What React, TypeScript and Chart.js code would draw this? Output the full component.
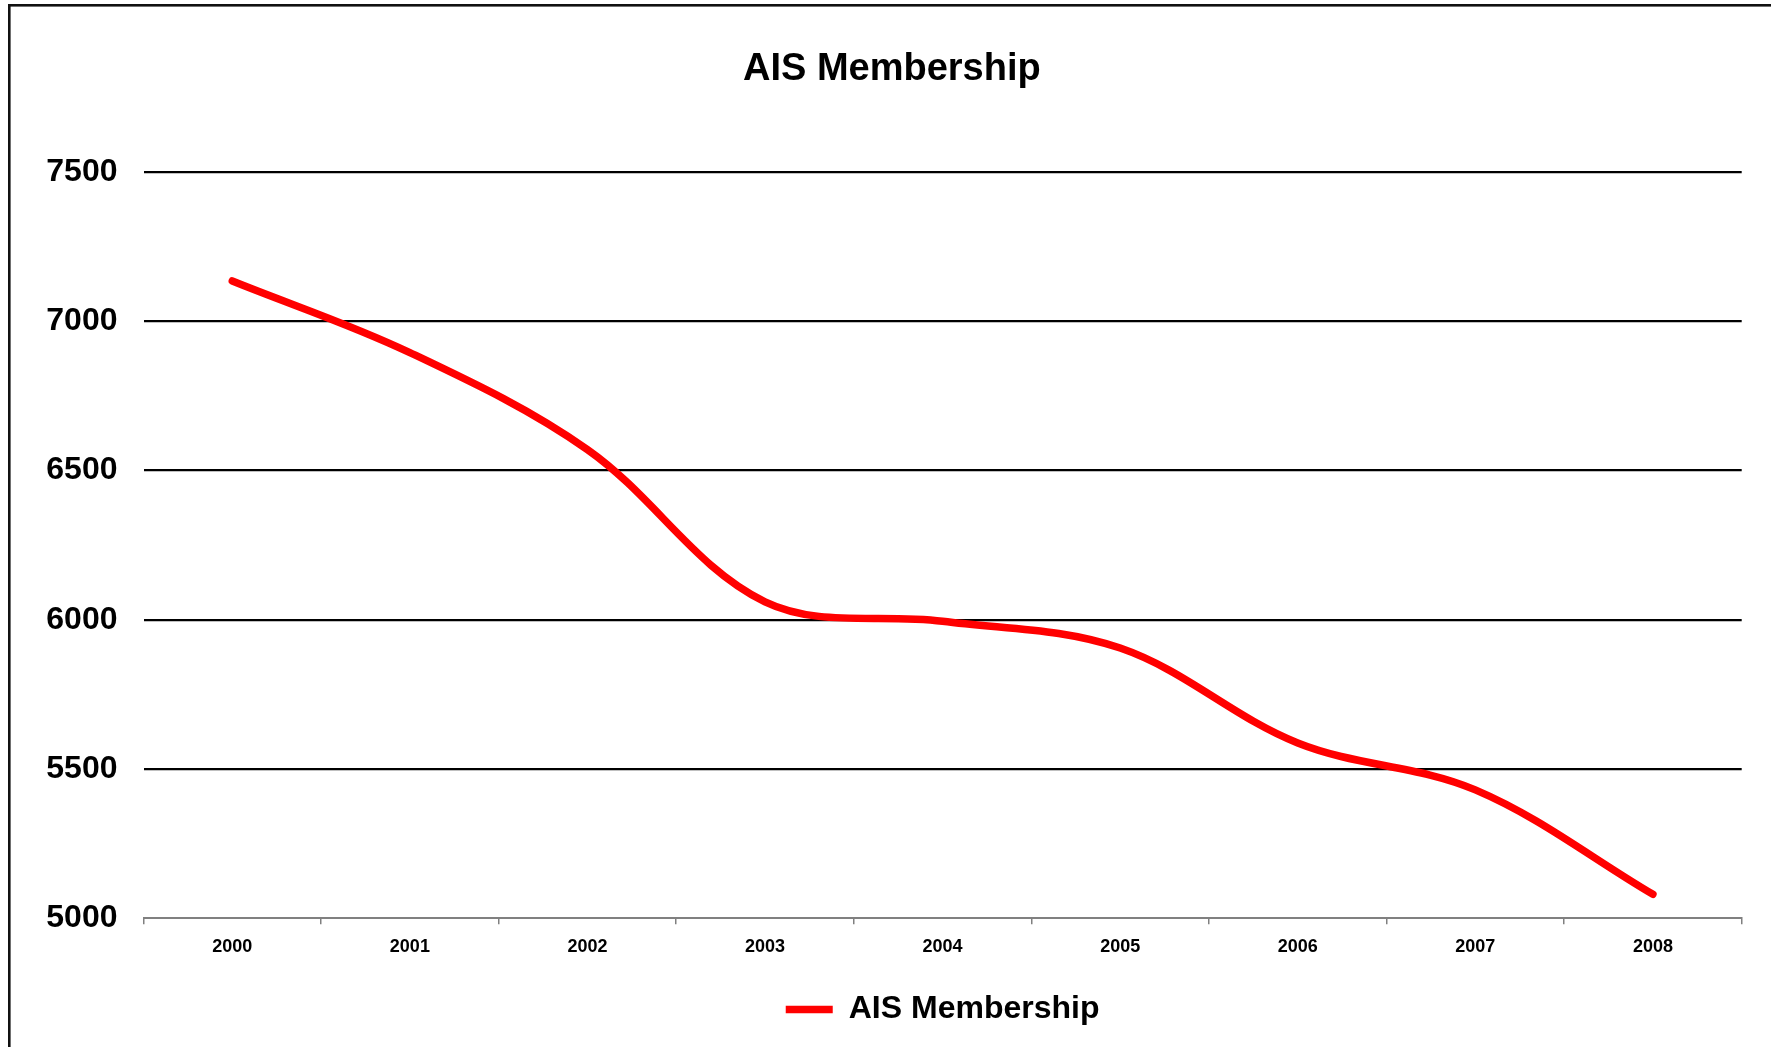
import React, { useEffect, useRef } from "react";
import { Chart, registerables } from "chart.js";

Chart.register(...registerables);

const categories = ["2000", "2001", "2002", "2003", "2004", "2005", "2006", "2007", "2008"];
const membership = [7135, 6895, 6570, 6060, 5995, 5905, 5587, 5430, 5080];
const seriesName = "AIS Membership";
const chartTitle = "AIS Membership";
const yMin = 5000;
const yMax = 7500;
const yStep = 500;

const FONT = "'Liberation Sans', Arial, sans-serif";

const framePlugin = {
  id: "frame",
  beforeDraw(chart: any) {
    const ctx = chart.ctx;
    ctx.save();
    ctx.fillStyle = "#ffffff";
    ctx.fillRect(0, 0, chart.width, chart.height);
    ctx.strokeStyle = "#111111";
    ctx.lineWidth = 2.6;
    ctx.strokeRect(9.3, 5.3, chart.width + 20, chart.height + 20);
    ctx.restore();
  },
};

export default function App() {
  const ref = useRef<HTMLCanvasElement | null>(null);

  useEffect(() => {
    if (!ref.current) return;
    const chart = new Chart(ref.current, {
      type: "line",
      data: {
        labels: categories,
        datasets: [
          {
            label: seriesName,
            data: membership,
            borderColor: "#ff0000",
            backgroundColor: "#ff0000",
            borderWidth: 7.5,
            borderCapStyle: "round",
            borderJoinStyle: "round",
            pointRadius: 0,
            pointHoverRadius: 0,
            pointStyle: "line",
            tension: 0.35,
            fill: false,
          },
        ],
      },
      options: {
        animation: false,
        responsive: false,
        devicePixelRatio: 1,
        layout: { padding: { left: 42, right: 29.3, top: 0, bottom: 11.5 } },
        plugins: {
          title: {
            display: true,
            text: chartTitle,
            color: "#000",
            font: { family: FONT, size: 38, weight: "bold" },
            padding: { top: 46.6, bottom: 79.8 },
          },
          legend: {
            display: true,
            position: "bottom",
            fullSize: false,
            labels: {
              color: "#000",
              font: { family: FONT, size: 32, weight: "bold" },
              usePointStyle: true,
              pointStyleWidth: 47,
              padding: 26.3,
            },
          },
          tooltip: { enabled: false },
        },
        scales: {
          x: {
            type: "category",
            offset: true,
            afterFit: (scale: any) => {
              scale.height = 49;
            },
            grid: {
              offset: true,
              drawOnChartArea: false,
              drawTicks: true,
              tickLength: 6,
              color: "#808080",
              lineWidth: 1.5,
            },
            border: { display: true, color: "#808080", width: 2 },
            ticks: {
              color: "#000",
              font: { family: FONT, size: 18, weight: "bold" },
              padding: 12,
              maxRotation: 0,
              autoSkip: false,
            },
          },
          y: {
            min: yMin,
            max: yMax,
            afterFit: (scale: any) => {
              scale.width = 101.5;
            },
            grid: {
              drawTicks: false,
              color: (c: any) => (c.tick && c.tick.value === yMin ? "rgba(0,0,0,0)" : "#000000"),
              lineWidth: 2.2,
            },
            border: { display: false },
            ticks: {
              stepSize: yStep,
              color: "#000",
              font: { family: FONT, size: 32, weight: "bold" },
              padding: 26,
              callback: (v: any) => String(v),
            },
          },
        },
      },
      plugins: [framePlugin],
    } as any);
    return () => chart.destroy();
  }, []);

  return (
    <div style={{ position: "fixed", left: 0, top: 0, width: 1771, height: 1047, background: "#fff" }}>
      <canvas ref={ref} width={1771} height={1047} style={{ display: "block", width: 1771, height: 1047 }} />
    </div>
  );
}
